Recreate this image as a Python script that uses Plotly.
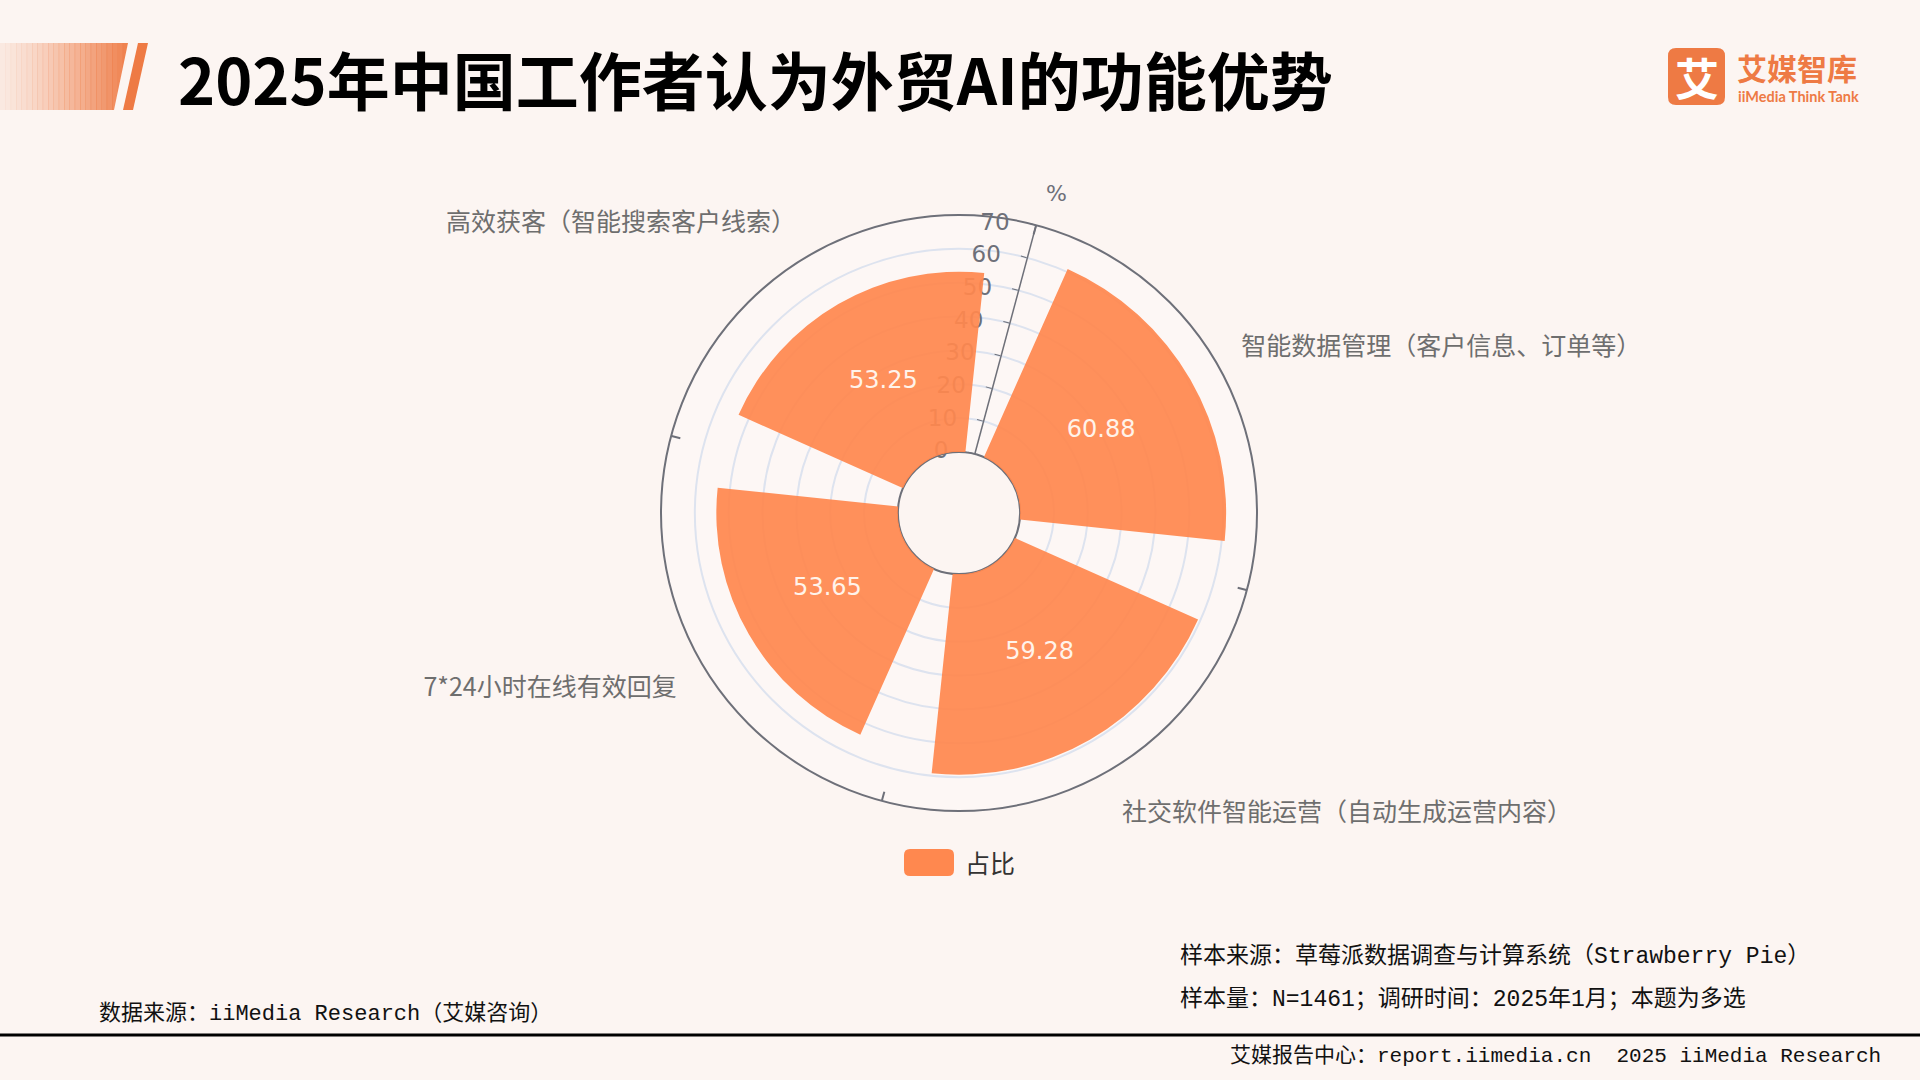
import plotly.graph_objects as go

# ---------------- data ----------------
categories = ["高效获客（智能搜索客户线索）", "智能数据管理（客户信息、订单等）",
              "社交软件智能运营（自动生成运营内容）", "7*24小时在线有效回复"]
values = [53.25, 60.88, 59.28, 53.65]
series_name = "占比"
radial_ticks = [0, 10, 20, 30, 40, 50, 60, 70]
boundary_angles = [15, 105, 195, 285]
title_text = "2025年中国工作者认为外贸AI的功能优势"
source_left = "数据来源：iiMedia Research（艾媒咨询）"
sample_source = "样本来源：草莓派数据调查与计算系统（Strawberry Pie）"
sample_info = "样本量：N=1461；调研时间：2025年1月；本题为多选"
footer_text = "艾媒报告中心：report.iimedia.cn  2025 iiMedia Research"

BAR = "#FF884F"
AXIS = "#6E7079"
GRID = "#DDE3EF"
BG = "#FCF5F2"
ORANGE = "#EE7A44"
W, H = 1920, 1080

def px(x):
    return x / W

def py(y):
    return 1 - y / H

fig = go.Figure()
fig.add_trace(go.Barpolar(
    r=values, theta=categories, name=series_name, width=0.8,
    marker=dict(color=BAR, line=dict(width=0)), opacity=0.93,
    showlegend=False,
))
fig.add_trace(go.Scatterpolar(
    r=[v / 2 for v in values], theta=categories, mode="text",
    text=[f"{v:.2f}" for v in values],
    textfont=dict(family="DejaVu Sans", size=24, color="#FFF3EA"),
    showlegend=False, hoverinfo="skip",
))
# helper subplot only to carry boundary tick marks on the outer circle
fig.add_trace(go.Scatterpolar(r=[None], theta=[None], subplot="polar2", mode="markers",
                              showlegend=False, hoverinfo="skip"))

cx, cy, R = 959, 513, 298
dom = dict(x=[px(cx - R), px(cx + R)], y=[py(cy + R), py(cy - R)])
fig.update_layout(
    width=W, height=H,
    margin=dict(l=0, r=0, t=0, b=0),
    paper_bgcolor=BG, plot_bgcolor=BG,
    polar=dict(
        domain=dom,
        bgcolor="rgba(255,255,255,0.25)",
        hole=0.205,
        radialaxis=dict(
            range=[0, 70], tickvals=radial_ticks, angle=75, tickangle=75,
            side="counterclockwise",
            showline=True, linecolor=AXIS, linewidth=1.5,
            ticks="outside", ticklen=6, tickcolor=AXIS,
            tickfont=dict(family="DejaVu Sans", size=23, color=AXIS),
            gridcolor=GRID, gridwidth=1.5,
            layer="below traces",
        ),
        angularaxis=dict(
            type="category", rotation=120, direction="clockwise",
            showgrid=False, showline=True, linecolor=AXIS, linewidth=2,
            ticks="outside", ticklen=22, tickcolor="rgba(0,0,0,0)",
            tickfont=dict(family="Noto Sans CJK SC", size=25, color="#6E6E6E"),
            layer="below traces",
        ),
    ),
    polar2=dict(
        domain=dom, bgcolor="rgba(0,0,0,0)",
        radialaxis=dict(visible=False, range=[0, 1]),
        angularaxis=dict(rotation=90, direction="clockwise", tickvals=boundary_angles,
                         showticklabels=False, showgrid=False, showline=False,
                         ticks="inside", ticklen=9, tickwidth=1.5, tickcolor=AXIS),
    ),
    font=dict(family="Noto Sans CJK SC"),
)

shapes = []
n = 24
x0, x1 = 0, 128
for i in range(n):
    a = (i + 1) / n
    xa = x0 + (x1 - x0) * i / n
    xb = x0 + (x1 - x0) * (i + 1) / n
    shapes.append(dict(type="rect", xref="paper", yref="paper",
                       x0=px(xa), x1=px(xb + 0.5), y0=py(110), y1=py(43),
                       fillcolor=ORANGE, opacity=0.08 + 0.85 * a ** 1.3, line=dict(width=0), layer="below"))
shapes.append(dict(type="path", xref="paper", yref="paper",
                   path=f"M {px(128)},{py(43)} L {px(130)},{py(43)} L {px(130)},{py(110)} L {px(114)},{py(110)} Z",
                   fillcolor=BG, line=dict(width=0), layer="below"))
shapes.append(dict(type="path", xref="paper", yref="paper",
                   path=f"M {px(138)},{py(43)} L {px(148)},{py(43)} L {px(133)},{py(110)} L {px(123)},{py(110)} Z",
                   fillcolor=ORANGE, line=dict(width=0)))

def rounded(x0, x1, y0, y1, r):
    return (f"M {px(x0+r)},{py(y0)} L {px(x1-r)},{py(y0)} Q {px(x1)},{py(y0)} {px(x1)},{py(y0+r)} "
            f"L {px(x1)},{py(y1-r)} Q {px(x1)},{py(y1)} {px(x1-r)},{py(y1)} "
            f"L {px(x0+r)},{py(y1)} Q {px(x0)},{py(y1)} {px(x0)},{py(y1-r)} "
            f"L {px(x0)},{py(y0+r)} Q {px(x0)},{py(y0)} {px(x0+r)},{py(y0)} Z")

shapes.append(dict(type="path", xref="paper", yref="paper", path=rounded(1668, 1725, 48, 105, 8),
                   fillcolor=ORANGE, line=dict(width=0)))
shapes.append(dict(type="path", xref="paper", yref="paper", path=rounded(904, 954, 849, 876, 6),
                   fillcolor=BAR, line=dict(width=0)))
shapes.append(dict(type="line", xref="paper", yref="paper", x0=0, x1=1, y0=py(1035), y1=py(1035),
                   line=dict(color="#000000", width=3)))
fig.update_layout(shapes=shapes)

mono = "Liberation Mono, Noto Sans CJK SC, monospace"
ann = [
    dict(text=f"<b>{title_text}</b>", x=px(176), y=py(77), xanchor="left", yanchor="middle",
         font=dict(family="Noto Sans CJK SC", size=63, color="#000000")),
    dict(text="<b>艾</b>", x=px(1696.5), y=py(77), xanchor="center", yanchor="middle",
         font=dict(family="Noto Sans CJK SC", size=44, color="#FFFFFF")),
    dict(text="<b>艾媒智库</b>", x=px(1735), y=py(67), xanchor="left", yanchor="middle",
         font=dict(family="Noto Sans CJK SC", size=30, color=ORANGE)),
    dict(text="<b>iiMedia Think Tank</b>", x=px(1736), y=py(96), xanchor="left", yanchor="middle",
         font=dict(family="Lato, Noto Sans", size=14.5, color=ORANGE)),
    dict(text="%", x=px(1056), y=py(193), xanchor="center", yanchor="middle",
         font=dict(family="DejaVu Sans", size=22, color=AXIS)),
    dict(text=series_name, x=px(963), y=py(862), xanchor="left", yanchor="middle",
         font=dict(family="Noto Sans CJK SC", size=25, color="#333333")),
    dict(text=source_left, x=px(97), y=py(1014), xanchor="left", yanchor="middle",
         font=dict(family=mono, size=22, color="#111111")),
    dict(text=sample_source, x=px(1178), y=py(956), xanchor="left", yanchor="middle",
         font=dict(family=mono, size=23, color="#111111")),
    dict(text=sample_info, x=px(1178), y=py(999), xanchor="left", yanchor="middle",
         font=dict(family=mono, size=23, color="#111111")),
    dict(text=footer_text, x=px(1228), y=py(1056), xanchor="left", yanchor="middle",
         font=dict(family=mono, size=21, color="#111111")),
]
for a in ann:
    a.update(xref="paper", yref="paper", showarrow=False)
fig.update_layout(annotations=ann)

fig.write_html("out.html", config={"displayModeBar": False},
               post_script="document.body.style.margin='0';")
